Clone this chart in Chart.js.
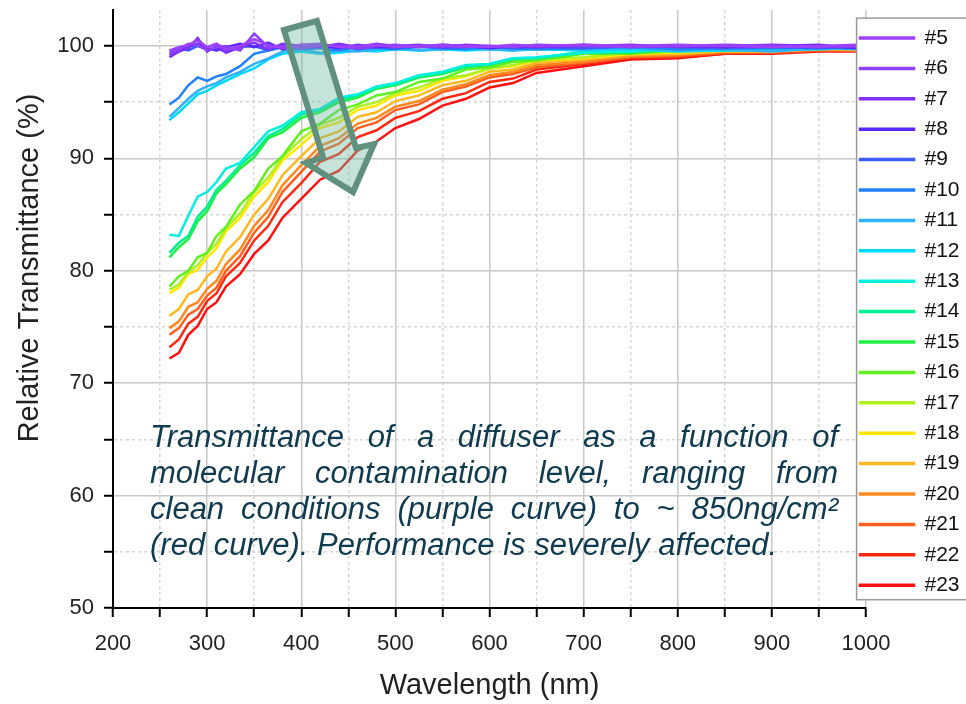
<!DOCTYPE html>
<html>
<head>
<meta charset="utf-8">
<title>Diffuser transmittance</title>
<script src="https://cdn.jsdelivr.net/npm/chart.js@4"></script>
<style>
  body { margin: 0; background: #fff; }
  #wrap { width: 966px; height: 704px; }
</style>
</head>
<body>
<div id="wrap"><canvas id="trans"></canvas></div>
<script>
// wavelength samples (nm)
const wavelength = [260,270,280,290,300,310,320,335,350,365,380,400,420,440,460,480,500,525,550,575,600,625,650,700,750,800,850,900,950,990];

// relative transmittance (%) per sample
const t5  = [99.6,99.9,100.1,100.5,99.9,100.2,99.7,100.0,100.6,100.1,99.8,100.1,100.2,99.9,100.0,100.1,99.9,100.0,100.1,100.0,99.9,100.1,100.0,100.1,100.0,100.1,100.0,99.9,100.0,100.1];
const t6  = [99.3,99.7,100.2,100.1,99.6,99.9,100.0,99.6,101.1,99.9,100.0,99.8,100.1,100.0,99.8,100.0,100.1,99.9,100.0,99.9,100.0,99.9,100.1,100.0,99.9,100.0,100.1,100.0,99.9,100.0];
const t7  = [99.0,99.5,99.8,100.7,99.5,100.0,99.4,99.9,100.3,99.7,100.2,100.0,99.9,100.2,99.9,100.2,100.0,100.1,99.9,100.1,100.0,100.0,99.9,100.0,100.1,99.9,100.0,100.1,100.0,99.9];
const t8  = [99.2,99.6,99.9,100.2,99.8,99.6,99.9,100.2,99.9,100.3,99.7,100.1,100.0,99.8,100.1,99.9,100.0,99.9,100.1,100.0,99.8,100.0,99.9,100.1,99.9,100.0,99.9,100.0,100.1,99.8];
const t9  = [99.5,99.8,99.6,100.0,99.7,99.8,99.5,99.9,100.0,99.6,99.9,99.8,99.9,100.0,99.7,99.9,99.8,100.0,99.8,99.9,100.0,99.8,99.9,99.8,100.0,99.9,99.8,99.9,99.8,99.9];
const t10 = [94.8,95.4,96.5,97.2,96.9,97.3,97.5,98.2,99.3,99.6,99.9,99.7,99.8,99.6,99.9,99.8,99.7,99.9,99.8,99.7,99.9,99.8,99.7,99.8,99.9,99.7,99.8,99.8,99.9,99.8];
const t11 = [93.7,94.5,95.3,96.0,96.4,96.7,97.2,97.7,98.4,98.9,99.5,99.7,99.4,99.6,99.5,99.7,99.8,99.6,99.7,99.8,99.7,99.6,99.8,99.7,99.8,99.6,99.7,99.5,99.8,99.7];
const t12 = [93.4,94.1,94.9,95.7,96.0,96.5,96.9,97.5,98.0,98.8,99.3,99.5,99.3,99.4,99.6,99.5,99.7,99.6,99.7,99.6,99.7,99.6,99.7,99.6,99.7,99.5,99.6,99.6,99.7,99.8];
const t13 = [83.2,83.1,84.9,86.6,87.0,87.9,89.1,89.6,91.0,92.4,92.9,94.1,94.4,95.4,95.7,96.4,96.7,97.4,97.7,98.3,98.4,98.9,99.0,99.4,99.5,99.7,99.7,99.9,99.8,100.0];
const t14 = [81.6,82.5,83.1,84.8,85.7,87.2,88.0,89.4,90.5,92.0,92.6,93.9,94.3,95.2,95.6,96.3,96.6,97.3,97.6,98.2,98.4,98.9,98.9,99.5,99.5,99.8,99.7,99.9,99.8,99.9];
const t15 = [81.2,82.1,82.8,84.4,85.3,86.9,87.7,89.1,90.1,91.8,92.3,93.6,94.1,95.0,95.4,96.2,96.5,97.2,97.5,98.1,98.3,98.8,98.9,99.4,99.4,99.7,99.6,99.8,99.8,99.9];
const t16 = [78.6,79.5,80.0,81.2,81.6,83.1,83.9,85.9,87.1,89.1,90.2,92.4,93.1,94.3,94.8,95.6,95.9,96.8,97.1,97.9,98.1,98.6,98.7,99.3,99.3,99.6,99.6,99.8,99.7,99.9];
const t17 = [78.3,78.8,79.9,80.5,81.6,82.4,83.8,85.1,87.0,88.3,90.1,91.7,93.0,93.6,94.6,95.0,95.8,96.3,97.1,97.4,98.0,98.3,98.8,99.0,99.4,99.5,99.7,99.6,99.8,99.8];
const t18 = [78.0,78.5,79.7,80.1,81.2,82.0,83.5,84.7,86.6,87.9,89.8,91.2,92.7,93.2,94.3,94.7,95.6,96.0,96.9,97.3,98.0,98.2,98.7,98.9,99.3,99.4,99.6,99.6,99.8,99.7];
const t19 = [76.0,76.6,77.9,78.3,79.5,80.2,81.7,83.0,85.0,86.4,88.5,90.2,91.8,92.4,93.7,94.1,95.1,95.6,96.5,96.9,97.7,97.9,98.5,98.8,99.2,99.3,99.5,99.5,99.7,99.7];
const t20 = [74.9,75.5,76.8,77.2,78.4,79.1,80.6,81.9,84.0,85.4,87.6,89.4,91.1,91.8,93.1,93.6,94.6,95.1,96.1,96.6,97.4,97.7,98.3,98.6,99.1,99.2,99.5,99.5,99.7,99.6];
const t21 = [74.3,74.9,76.1,76.6,77.8,78.5,80.0,81.3,83.4,84.8,87.0,88.8,90.6,91.3,92.7,93.2,94.3,94.8,95.9,96.4,97.2,97.5,98.1,98.5,99.0,99.1,99.4,99.4,99.6,99.6];
const t22 = [73.2,73.9,75.3,75.9,77.3,78.0,79.5,80.7,82.7,84.0,86.1,87.8,89.7,90.4,91.9,92.5,93.6,94.2,95.3,95.8,96.8,97.1,97.9,98.4,98.9,99.0,99.3,99.4,99.6,99.6];
const t23 = [72.2,72.7,74.3,75.1,76.6,77.2,78.6,79.7,81.5,82.7,84.7,86.4,88.1,88.9,90.7,91.5,92.7,93.5,94.7,95.3,96.3,96.7,97.6,98.2,98.8,98.9,99.3,99.3,99.5,99.5];

const series = [t5,t6,t7,t8,t9,t10,t11,t12,t13,t14,t15,t16,t17,t18,t19,t20,t21,t22,t23];
const names = ['#5','#6','#7','#8','#9','#10','#11','#12','#13','#14','#15','#16','#17','#18','#19','#20','#21','#22','#23'];
const colors = ['#a040ff','#9040ff','#8030ff','#5a28ff','#3c5cff','#2080ff','#30b0ff','#00d8ff','#00f0e0','#00f090',
                '#20f040','#60f020','#b0f020','#ffe800','#ffb820','#ff8820','#ff6020','#ff2810','#ff1010'];

// arrow outline in data units (nm, %)
const arrow = [[381.7,101.42],[416.7,102.23],[458.2,90.92],[477.3,91.27],[455.0,87.0],[405.0,89.58],[423.1,90.12]];

const noteLines = [
  'Transmittance of a diffuser as a function of',
  'molecular contamination level, ranging from',
  'clean conditions (purple curve) to ~ 850ng/cm\u00b2',
  '(red curve). Performance is severely affected.'
];

Chart.defaults.font.family = '"Liberation Sans", Arial, sans-serif';
Chart.defaults.color = '#222';

const LEG_PAD = 9.4;

const decor = {
  id: 'decor',
  afterLayout(chart) {
    // pull the legend a little over the plot like the original
    const lg = chart.legend;
    lg.left -= 15.4;
    lg.right = chart.width + 20;
    lg.top += 8.1; lg.bottom += 8.1;
  },
  afterDatasetsDraw(chart) {
    const {ctx, scales: {x, y}} = chart;
    ctx.save();
    ctx.beginPath();
    arrow.forEach(([a, b], i) => {
      const px = x.getPixelForValue(a), py = y.getPixelForValue(b);
      if (i) ctx.lineTo(px, py); else ctx.moveTo(px, py);
    });
    ctx.closePath();
    ctx.fillStyle = 'rgba(110,185,160,0.4)';
    ctx.fill();
    ctx.lineWidth = 6;
    ctx.lineJoin = 'miter';
    ctx.strokeStyle = '#5f917e';
    ctx.stroke();
    ctx.restore();
  },
  afterDraw(chart) {
    const ctx = chart.ctx;
    const lg = chart.legend;

    // legend frame, then legend again on top of it
    const bx = lg.left + 6, by = lg.top;
    const bh = names.length * (21 + LEG_PAD) + 4;
    ctx.save();
    ctx.fillStyle = '#fff';
    ctx.fillRect(bx, by, 130, bh);
    ctx.strokeStyle = '#999';
    ctx.lineWidth = 1.5;
    ctx.strokeRect(bx, by, 130, bh);
    ctx.restore();
    lg.draw();

    // y axis title, sits above the axis centre in the original
    ctx.save();
    ctx.translate(30, 268);
    ctx.rotate(-Math.PI / 2);
    ctx.font = '29px "Liberation Sans", Arial, sans-serif';
    ctx.fillStyle = '#222';
    ctx.textAlign = 'center';
    ctx.textBaseline = 'middle';
    ctx.fillText('Relative Transmittance (%)', 0, 0);
    ctx.restore();

    // caption, justified
    ctx.save();
    ctx.font = 'italic 31px "Liberation Sans", Arial, sans-serif';
    ctx.fillStyle = '#0f3a4f';
    ctx.textBaseline = 'alphabetic';
    const left = 150, right = 838;
    noteLines.forEach((line, i) => {
      const yb = 447 + i * 36;
      if (i === noteLines.length - 1) { ctx.fillText(line, left, yb); return; }
      const words = line.split(' ');
      const widths = words.map(w => ctx.measureText(w).width);
      const total = widths.reduce((a, b) => a + b, 0);
      const gap = (right - left - total) / (words.length - 1);
      let cx = left;
      words.forEach((w, k) => { ctx.fillText(w, cx, yb); cx += widths[k] + gap; });
    });
    ctx.restore();
  }
};

const majorX = c => c.tick && Math.round(c.tick.value) % 100 === 0;
const majorY = c => c.tick && Math.round(c.tick.value) % 10 === 0;

new Chart(document.getElementById('trans'), {
  type: 'line',
  data: {
    datasets: series.map((s, i) => ({
      label: names[i],
      data: s.map((v, j) => ({x: wavelength[j], y: v})),
      borderColor: colors[i],
      backgroundColor: colors[i],
      borderWidth: 2.5,
      pointRadius: 0,
      tension: 0,
      fill: false
    }))
  },
  options: {
    responsive: true,
    maintainAspectRatio: false,
    animation: false,
    layout: { padding: { top: 10, right: 0, bottom: 0, left: 0 } },
    plugins: {
      tooltip: { enabled: false },
      legend: {
        position: 'right',
        align: 'start',
        maxWidth: 100,
        labels: {
          boxWidth: 54,
          boxHeight: 1,
          padding: LEG_PAD,
          color: '#111',
          font: { size: 21 }
        }
      }
    },
    scales: {
      x: {
        type: 'linear',
        min: 200,
        max: 1000,
        ticks: {
          stepSize: 50,
          autoSkip: false,
          maxRotation: 0,
          padding: 14,
          font: { size: 22 },
          color: '#222',
          callback: v => (Math.round(v) % 100 === 0 ? String(v) : '')
        },
        grid: {
          color: c => (majorX(c) ? '#c8c8c8' : '#d6d6d6'),
          lineWidth: 1.5,
          tickColor: '#000',
          tickLength: 9,
          tickWidth: 2
        },
        border: {
          color: '#000',
          width: 2,
          dash: c => (c.tick && !majorX(c) ? [3, 3] : [])
        },
        title: {
          display: true,
          text: 'Wavelength (nm)',
          font: { size: 29 },
          color: '#222',
          padding: { top: 2, bottom: 1 }
        },
        afterFit: s => {
          s.height = 96;
          s.paddingLeft = 0; s.paddingRight = 0;
        }
      },
      y: {
        min: 50,
        max: 103.2,
        ticks: {
          stepSize: 5,
          includeBounds: false,
          padding: 10,
          font: { size: 22 },
          color: '#222',
          callback: v => (Math.round(v) % 10 === 0 ? String(Math.round(v)) : '')
        },
        grid: {
          color: c => (majorY(c) ? '#c8c8c8' : '#d6d6d6'),
          lineWidth: 1.5,
          tickColor: '#000',
          tickLength: 9,
          tickWidth: 2
        },
        border: {
          color: '#000',
          width: 2,
          dash: c => (c.tick && !majorY(c) ? [3, 3] : [])
        },
        afterFit: s => {
          s.width = 113;
          s.paddingTop = 0; s.paddingBottom = 0;
        }
      }
    }
  },
  plugins: [decor]
});
</script>
</body>
</html>
